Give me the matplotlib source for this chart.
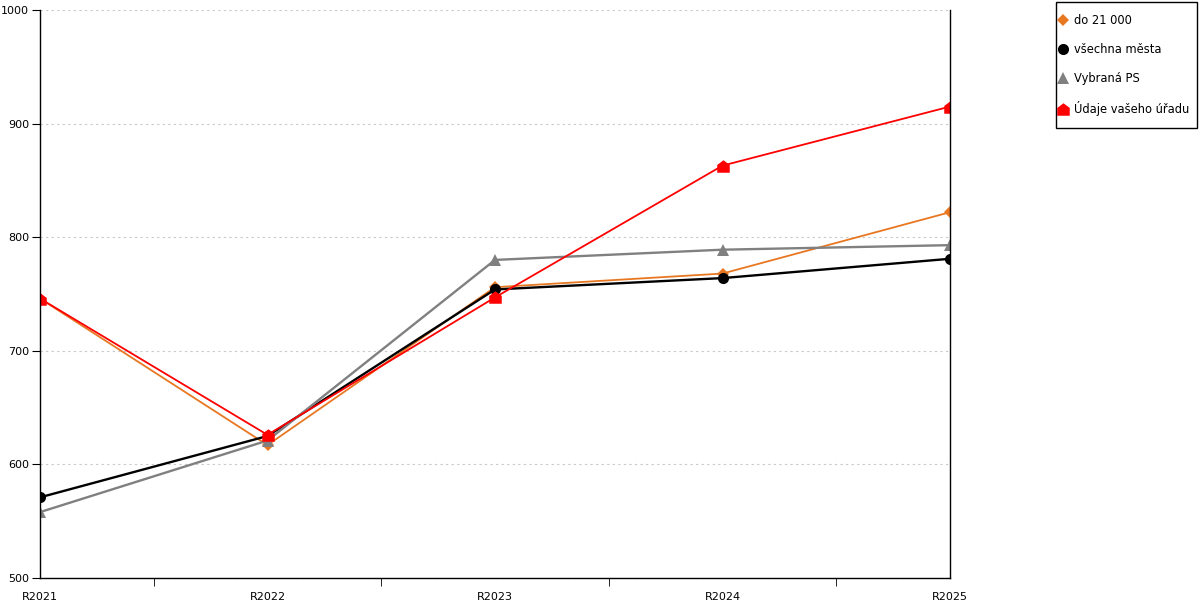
import matplotlib
matplotlib.use("Agg")
import matplotlib.pyplot as plt
from matplotlib.patches import Rectangle
import numpy as np

# ── data ──────────────────────────────────────────────────────────────────────
years = ["R2021", "R2022", "R2023", "R2024", "R2025"]
do_21000 = [746, 617, 756, 768, 822]
vsechna_mesta = [571, 625, 754, 764, 781]
vybrana_ps = [558, 621, 780, 789, 793]
udaje_uradu = [746, 626, 747, 863, 915]

# little "house" shape used for the office series
HOUSE = [(-1, -1), (1, -1), (1, 0.25), (0, 1), (-1, 0.25), (-1, -1)]

series = [
    ("do 21 000", do_21000, "#e87722", "D", 6, 1.3),
    ("všechna města", vsechna_mesta, "#000000", "o", 8, 1.7),
    ("Vybraná PS", vybrana_ps, "#808080", "^", 8, 1.7),
    ("Údaje vašeho úřadu", udaje_uradu, "#ff0000", HOUSE, 9, 1.3),
]

W, H = 1200, 600
plt.rcParams["font.family"] = "DejaVu Sans"
fig = plt.figure(figsize=(12, 6), dpi=100)
ax = fig.add_axes([40 / W, 22 / H, 910 / W, 568 / H])

x = np.arange(len(years))
for label, vals, color, marker, ms, lw in series:
    ax.plot(x, vals, color=color, marker=marker, markersize=ms, linewidth=lw,
            label=label, markeredgewidth=0)

ax.set_xlim(0, len(years) - 1)
ax.set_ylim(500, 1000)
ax.set_yticks([500, 600, 700, 800, 900, 1000])
ax.set_xticks(x)
ax.set_xticklabels(years)
ax.set_xticks(x[:-1] + 0.5, minor=True)
ax.tick_params(axis="x", which="major", length=0, pad=10, labelsize=8)
ax.tick_params(axis="x", which="minor", length=6, direction="out")
ax.tick_params(axis="y", length=6, direction="out", labelsize=8, pad=2)
ax.grid(True, axis="y", color="#c8c8c8", linestyle=(0, (2, 3)), linewidth=0.8)
ax.set_axisbelow(True)

ax.spines["top"].set_visible(False)
for s in ("left", "bottom", "right"):
    ax.spines[s].set_linewidth(1.0)
    ax.spines[s].set_color("black")

# legend without its own frame; the box is drawn separately to fix its size
leg = fig.legend(loc="upper left", bbox_to_anchor=(1047 / W, 1 - 2 / H),
                 fontsize=8.3, frameon=False,
                 handlelength=0.7, handletextpad=0.6, labelspacing=1.38,
                 borderpad=1.05, borderaxespad=0)
for line in leg.get_lines():
    line.set_linestyle("none")
fig.patches.append(Rectangle((1055.5 / W, 1 - 127.5 / H), 141 / W, 125 / H,
                             transform=fig.transFigure, fill=False,
                             edgecolor="black", linewidth=1.0))

fig.savefig("out.png", dpi=100, facecolor="white")
